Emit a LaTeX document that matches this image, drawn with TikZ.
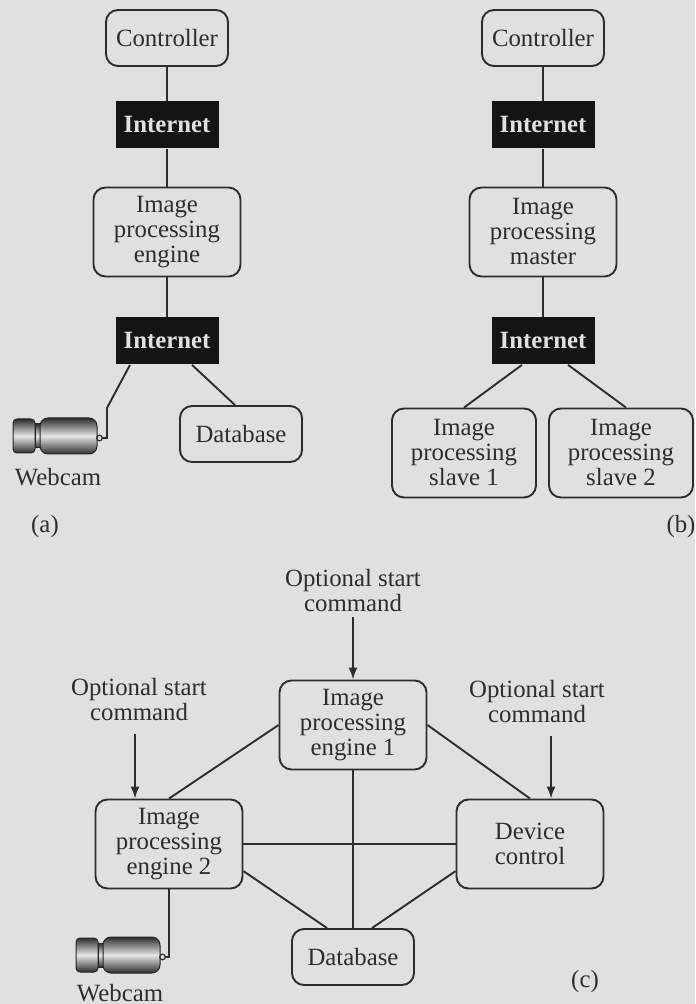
\documentclass[tikz,border=0pt]{standalone}
\usepackage{fontspec}
\setmainfont{Liberation Serif}
\usetikzlibrary{arrows.meta, positioning, calc}

\definecolor{paper}{RGB}{224,224,223}
\definecolor{ink}{RGB}{45,45,45}

\newcommand{\figfont}{\fontsize{12.4pt}{12.5pt}\selectfont}

\tikzset{
  block/.style={draw=ink, line width=0.95pt, rounded corners=6pt, align=center,
    text=ink, inner sep=1pt},
  smallblock/.style={block, minimum width=61pt, minimum height=28pt},
  bigblock/.style={block, minimum width=73.5pt, minimum height=44.5pt},
  net/.style={fill=black!92, text=paper, font=\figfont\bfseries,
    minimum width=51.5pt, minimum height=23.5pt, inner sep=0pt},
  link/.style={draw=ink, line width=0.95pt},
  cmd/.style={text=ink, align=center, inner sep=1pt},
  camshade/.style={draw=black!85, line width=0.5pt, top color=black!82,
    bottom color=black!82, middle color=black!10},
  % small webcam icon, plug on the right
  webcam/.pic={
    \shadedraw[camshade, rounded corners=2pt] (-44,-17) rectangle (-22,17);
    \shadedraw[camshade] (-22,-12) rectangle (-17,12);
    \shadedraw[camshade, rounded corners=4pt] (-17,-18) rectangle (40,18);
    \draw[black!85, line width=0.6pt] (42.5,2) circle (1.4pt);
    \coordinate (-plug) at (45,2);
  }
}

\begin{document}
\begin{tikzpicture}[x=0.5pt, y=-0.5pt, >={Latex[length=6pt,width=4.5pt]}, font=\figfont]

\useasboundingbox (0,0) rectangle (695,1004);
\fill[paper] (0,0) rectangle (695,1004);

% ================== (a): single engine ==================
\begin{scope}
  \node[smallblock] (ctrlA) at (167,38) {Controller};
  \node[net] (netA1) at (167,125) {Internet};
  \node[bigblock] (engA) at (167,232) {Image\\processing\\engine};
  \node[net] (netA2) at (167,341) {Internet};
  \node[smallblock] (dbA) at (241,434) {Database};
  \pic (camA) at (57,436) {webcam};
  \node[cmd] (camAtxt) at (58,477) {Webcam};
  \node[cmd] (labA) at (45,527) {(a)};

  \draw[link] (ctrlA) -- (netA1) -- (engA) -- (netA2);
  \draw[link] ([xshift=12.5pt]netA2.south) -- ([xshift=-3pt]dbA.north);
  \draw[link] ([xshift=-18.5pt]netA2.south) -- ++(-23,43) |- (camA-plug);
\end{scope}

% ================== (b): master and slaves ==================
\begin{scope}
  \node[smallblock] (ctrlB) at (543,38) {Controller};
  \node[net] (netB1) at (543,125) {Internet};
  \node[bigblock] (master) at (543,232) {Image\\processing\\master};
  \node[net] (netB2) at (543,341) {Internet};
  \node[bigblock, minimum width=72pt] (slave1) at (464,453) {Image\\processing\\slave 1};
  \node[bigblock, minimum width=72pt] (slave2) at (621,453) {Image\\processing\\slave 2};
  \node[cmd] (labB) at (681,527) {(b)};

  \draw[link] (ctrlB) -- (netB1) -- (master) -- (netB2);
  \draw[link] ([xshift=-10.5pt]netB2.south) -- (slave1.north);
  \draw[link] ([xshift=12.5pt]netB2.south) -- ([xshift=2.5pt]slave2.north);
\end{scope}

% ================== (c): two engines and device control ==================
\begin{scope}
  \node[cmd] (startE1) at (353,591) {Optional start\\command};
  \node[bigblock] (eng1) at (353,725) {Image\\processing\\engine 1};
  \node[cmd] (startE2) at (139,700) {Optional start\\command};
  \node[bigblock] (eng2) at (169,844) {Image\\processing\\engine 2};
  \node[cmd] (startDev) at (537,702) {Optional start\\command};
  \node[bigblock] (dev) at (530,844) {Device\\control};
  \node[smallblock] (dbC) at (353,957) {Database};
  \pic (camC) at (120,955) {webcam};
  \node[cmd] (camCtxt) at (120,993) {Webcam};
  \node[cmd] (labC) at (585,982) {(c)};

  % start commands
  \draw[link, ->, shorten <=1pt] (startE1.south) -- (startE1.south |- eng1.north);
  \draw[link, ->, shorten <=5pt] ([xshift=-2pt]startE2.south) -- ([xshift=-2pt]startE2.south |- eng2.north);
  \draw[link, ->, shorten <=5pt] ([xshift=7pt]startDev.south) -- ([xshift=7pt]startDev.south |- dev.north);

  % links between the blocks
  \draw[link] (eng1.west) -- (eng2.north);
  \draw[link] (eng1.east) -- (dev.north);
  \draw[link] (eng1.south) -- (dbC.north);
  \draw[link] (eng2.east) -- (dev.west);
  \draw[link] (eng2.-20) -- ([xshift=-13pt]dbC.north);
  \draw[link] (dev.200) -- ([xshift=9.5pt]dbC.north);
  \draw[link] (eng2.south) |- (camC-plug);
\end{scope}

\end{tikzpicture}
\end{document}
